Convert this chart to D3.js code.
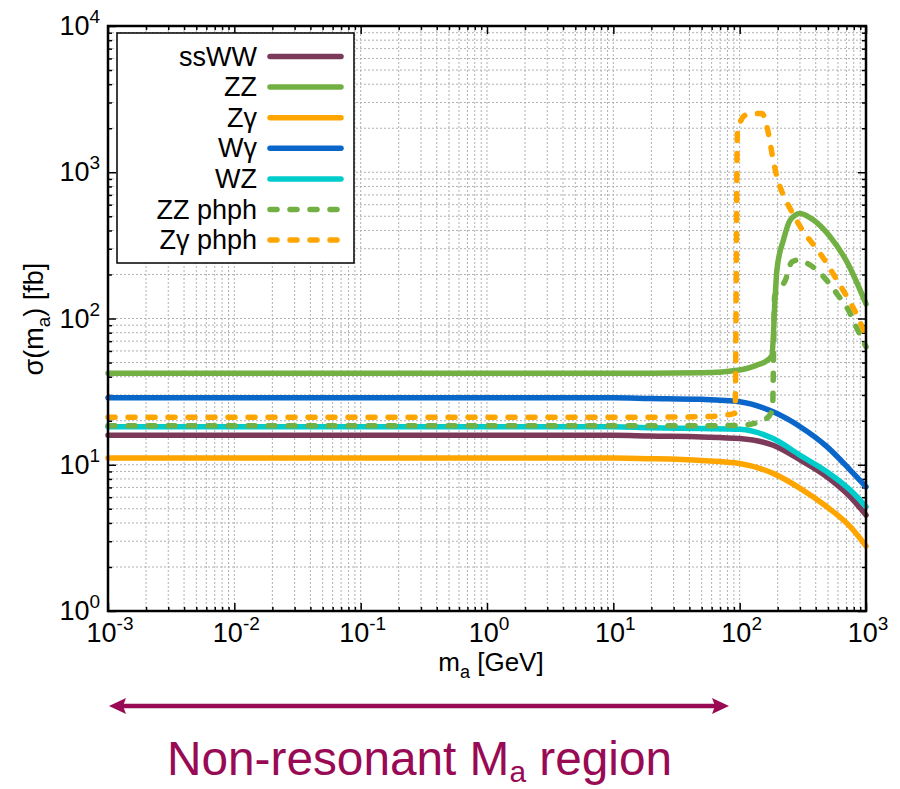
<!DOCTYPE html>
<html>
<head>
<meta charset="utf-8">
<script src="https://cdn.jsdelivr.net/npm/d3@7"></script>
<style>
  html, body { margin: 0; padding: 0; background: #fff; }
  svg { display: block; font-family: "Liberation Sans", Arial, sans-serif; }
</style>
</head>
<body>
<svg id="chart" width="900" height="789"></svg>
<script>
// ---- data ----
const seriesNames = ["ssWW", "ZZ", "Z\u03b3", "W\u03b3", "WZ", "ZZ phph", "Z\u03b3 phph"];
const seriesColors = ["#7b3a5a", "#72b043", "#ffa500", "#0a66c9", "#00cccc", "#72b043", "#ffa500"];
const seriesDashed = [false, false, false, false, false, true, true];

const massSmooth = [0.001, 0.01, 0.1, 1, 10, 19.5, 50, 100, 184, 301, 490, 750, 1000];
const ssWW = [15.9, 15.9, 15.9, 15.9, 15.9, 15.7, 15.5, 15.1, 13.6, 10.8, 8.28, 6.04, 4.53];
const Zgam = [11.1, 11.1, 11.1, 11.1, 11.1, 11.0, 10.7, 10.2, 8.73, 6.90, 5.16, 3.77, 2.78];
const Wgam = [28.7, 28.7, 28.7, 28.7, 28.7, 28.4, 28.0, 27.0, 23.0, 18.2, 13.3, 9.2, 7.07];
const WZ   = [18.2, 18.2, 18.2, 18.2, 18.2, 17.9, 17.7, 17.5, 15.1, 11.6, 8.96, 6.71, 5.16];

const massZZ = [0.001, 0.01, 0.1, 1, 10, 19.5, 50, 100, 137, 164, 180, 191, 197, 222, 251, 301, 384, 520, 706, 1000];
const ZZ     = [42.2, 42.2, 42.2, 42.2, 42.2, 42.2, 42.5, 44.4, 48.0, 51.5, 56.0, 141, 214, 344, 471, 523, 471, 362, 244, 126];

const massZZph = [0.001, 0.01, 0.1, 1, 10, 50, 100, 121, 164, 182, 189, 230, 259, 290, 361, 474, 587, 726, 847, 1000];
const ZZph     = [18.5, 18.5, 18.5, 18.5, 18.5, 18.5, 18.6, 18.9, 20.8, 24, 141, 183, 244, 251, 232, 188, 148, 114, 85.6, 64.1];

const massZgph = [0.001, 0.01, 0.1, 1, 10, 50, 79, 92, 96, 111, 150, 169, 180, 197, 222, 259, 320, 396, 490, 588, 706, 873, 1000];
const Zgph     = [21.1, 21.1, 21.1, 21.1, 21.1, 21.3, 21.9, 22.5, 1900, 2455, 2523, 1841, 1351, 931, 697, 536, 391, 309, 238, 183, 141, 100, 75];

const xTickExps = [-3, -2, -1, 0, 1, 2, 3];
const yTickExps = [0, 1, 2, 3, 4];

const series = [
  { x: massSmooth, y: ssWW },
  { x: massZZ, y: ZZ },
  { x: massSmooth, y: Zgam },
  { x: massSmooth, y: Wgam },
  { x: massSmooth, y: WZ },
  { x: massZZph, y: ZZph },
  { x: massZgph, y: Zgph }
];

// ---- layout ----
const L = 108, R = 866, T = 26, B = 611;
const svg = d3.select("#chart");
const x = d3.scaleLog().domain([1e-3, 1e3]).range([L, R]);
const y = d3.scaleLog().domain([1, 1e4]).range([B, T]);

const xMajor = xTickExps.map(e => Math.pow(10, e));
const yMajor = yTickExps.map(e => Math.pow(10, e));
const xAll = x.ticks(60);
const yAll = y.ticks(60);

// grid
const grid = svg.append("g");
grid.selectAll("line.gx").data(xAll).enter().append("line")
  .attr("x1", d => x(d)).attr("x2", d => x(d)).attr("y1", T).attr("y2", B)
  .attr("stroke", "#b0b0b0").attr("stroke-width", 1).attr("stroke-dasharray", "2,2");
grid.selectAll("line.gy").data(yAll).enter().append("line")
  .attr("y1", d => y(d)).attr("y2", d => y(d)).attr("x1", L).attr("x2", R)
  .attr("stroke", "#b0b0b0").attr("stroke-width", 1).attr("stroke-dasharray", "2,2");

// ticks (inward) on all sides using d3 axes
function isMajor(d) { return Math.abs(Math.log10(d) - Math.round(Math.log10(d))) < 1e-6; }
const axB = svg.append("g").attr("transform", `translate(0,${B})`)
  .call(d3.axisTop(x).tickValues(xAll).tickFormat("").tickSizeOuter(0));
const axT = svg.append("g").attr("transform", `translate(0,${T})`)
  .call(d3.axisBottom(x).tickValues(xAll).tickFormat("").tickSizeOuter(0));
const axL = svg.append("g").attr("transform", `translate(${L},0)`)
  .call(d3.axisRight(y).tickValues(yAll).tickFormat("").tickSizeOuter(0));
const axRr = svg.append("g").attr("transform", `translate(${R},0)`)
  .call(d3.axisLeft(y).tickValues(yAll).tickFormat("").tickSizeOuter(0));
[axB, axT].forEach(g => {
  g.select(".domain").remove();
  g.selectAll(".tick line").attr("stroke", "#000").attr("stroke-width", 1.5)
    .attr("y2", function(d) { const s = isMajor(d) ? 8 : 4; return g === axB ? -s : s; });
});
[axL, axRr].forEach(g => {
  g.select(".domain").remove();
  g.selectAll(".tick line").attr("stroke", "#000").attr("stroke-width", 1.5)
    .attr("x2", function(d) { const s = isMajor(d) ? 8 : 4; return g === axL ? s : -s; });
});

// series lines
const line = d3.line().curve(d3.curveMonotoneX);
const lines = svg.append("g");
series.forEach((s, i) => {
  const pts = s.x.map((m, j) => [x(m), y(s.y[j])]);
  lines.append("path")
    .attr("d", line(pts))
    .attr("fill", "none")
    .attr("stroke", seriesColors[i])
    .attr("stroke-width", 5.5)
    .attr("stroke-linecap", "round")
    .attr("stroke-linejoin", "round")
    .attr("stroke-dasharray", seriesDashed[i] ? "7,13" : null);
});

// frame
svg.append("rect").attr("x", L).attr("y", T).attr("width", R - L).attr("height", B - T)
  .attr("fill", "none").attr("stroke", "#000").attr("stroke-width", 2.5);

// tick labels
const xl = svg.append("g");
xTickExps.forEach((e, i) => {
  const t = xl.append("text").attr("x", x(xMajor[i]) + 2).attr("y", 642)
    .attr("text-anchor", "middle").attr("font-size", 27).attr("fill", "#000");
  t.append("tspan").text("10");
  t.append("tspan").attr("dy", -12).attr("font-size", 19).text(e < 0 ? "-" + (-e) : String(e));
});
const yl = svg.append("g");
yTickExps.forEach((e, i) => {
  const t = yl.append("text").attr("x", 100).attr("y", y(yMajor[i]) + 9)
    .attr("text-anchor", "end").attr("font-size", 27).attr("fill", "#000");
  t.append("tspan").text("10");
  t.append("tspan").attr("dy", -12).attr("font-size", 19).text(String(e));
});

// axis titles
const xt = svg.append("text").attr("x", 491).attr("y", 671).attr("text-anchor", "middle")
  .attr("font-size", 26).attr("fill", "#000");
xt.append("tspan").text("m");
xt.append("tspan").attr("dy", 7).attr("font-size", 18).text("a");
xt.append("tspan").attr("dy", -7).text(" [GeV]");

const yt = svg.append("text").attr("transform", "translate(43,319) rotate(-90)")
  .attr("text-anchor", "middle").attr("font-size", 27).attr("fill", "#000");
yt.append("tspan").text("\u03c3(m");
yt.append("tspan").attr("dy", 7).attr("font-size", 19).text("a");
yt.append("tspan").attr("dy", -7).text(") [fb]");

// legend
const lg = svg.append("g");
lg.append("rect").attr("x", 117).attr("y", 33).attr("width", 237).attr("height", 230)
  .attr("fill", "#fff").attr("stroke", "#000").attr("stroke-width", 1.5);
seriesNames.forEach((name, i) => {
  const cy = 56.5 + i * 30.6;
  lg.append("text").attr("x", 257).attr("y", cy + 9).attr("text-anchor", "end")
    .attr("font-size", 27).attr("fill", "#000").text(name);
  lg.append("line").attr("x1", 270).attr("x2", 341).attr("y1", cy).attr("y2", cy)
    .attr("stroke", seriesColors[i]).attr("stroke-width", 5.5).attr("stroke-linecap", "round")
    .attr("stroke-dasharray", seriesDashed[i] ? "7,13" : null);
});

// annotation arrow + text
const ac = "#990a55";
const ay = 706;
svg.append("line").attr("x1", 120).attr("x2", 718).attr("y1", ay).attr("y2", ay)
  .attr("stroke", ac).attr("stroke-width", 4.5);
svg.append("path").attr("d", `M109,${ay} L126,${ay - 8} L123,${ay} L126,${ay + 8} Z`).attr("fill", ac);
svg.append("path").attr("d", `M729,${ay} L712,${ay - 8} L715,${ay} L712,${ay + 8} Z`).attr("fill", ac);

const at = svg.append("text").attr("x", 167).attr("y", 775)
  .attr("font-family", "'Liberation Sans Narrow', 'Arial Narrow', 'Liberation Sans', sans-serif")
  .attr("font-size", 48).attr("fill", ac)
  .attr("textLength", 505).attr("lengthAdjust", "spacingAndGlyphs");
at.append("tspan").text("Non-resonant M");
at.append("tspan").attr("dy", 7).attr("font-size", 30).text("a");
at.append("tspan").attr("dy", -7).text(" region");
</script>
</body>
</html>
